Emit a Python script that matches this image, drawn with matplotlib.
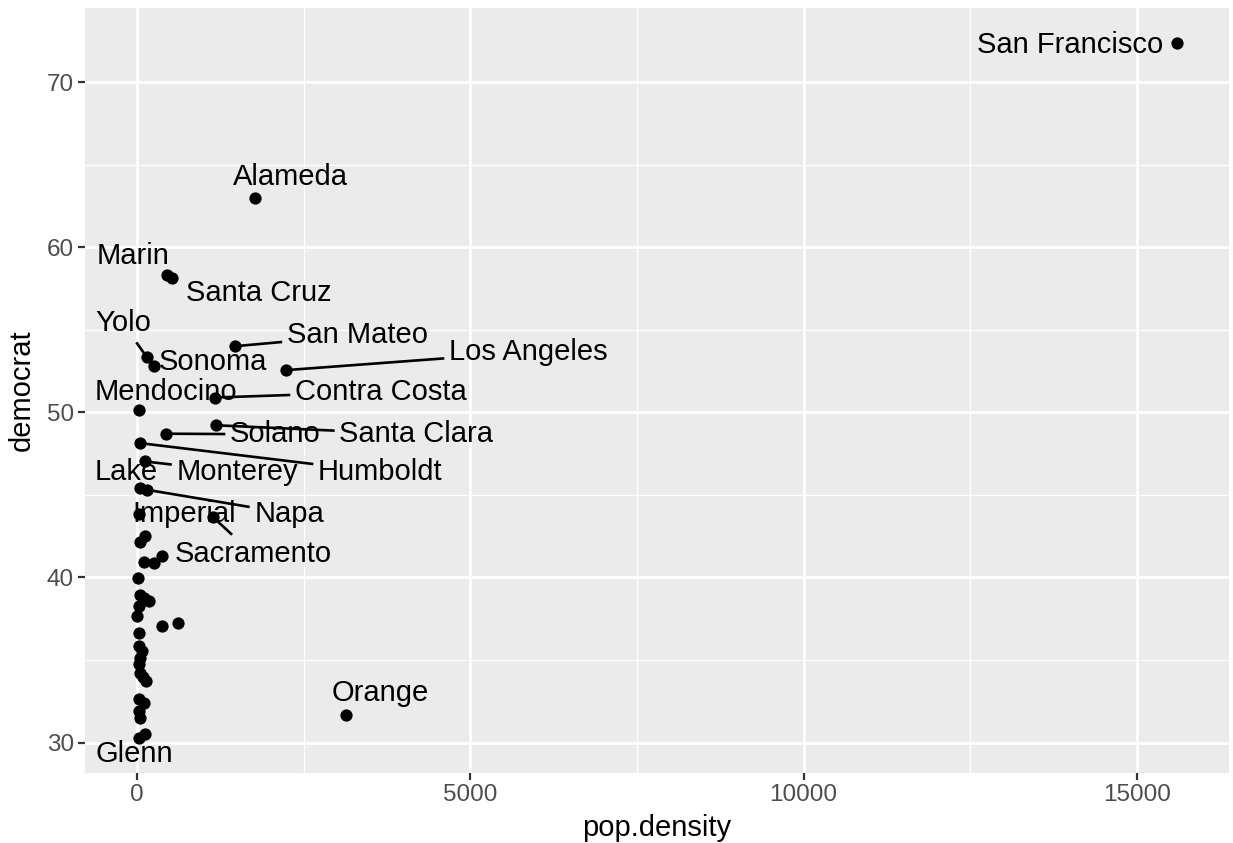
import numpy as np
import matplotlib.pyplot as plt

plt.rcParams['font.family'] = ['Liberation Sans', 'DejaVu Sans']

# labelled counties: population density vs democrat vote share
county = ['San Francisco', 'Alameda', 'Marin', 'Santa Cruz', 'San Mateo',
          'Yolo', 'Sonoma', 'Los Angeles', 'Contra Costa', 'Mendocino',
          'Santa Clara', 'Solano', 'Humboldt', 'Monterey', 'Lake', 'Napa',
          'Imperial', 'Sacramento', 'Orange', 'Glenn']
county_density = [15604, 1774, 455, 530, 1474,
                  150, 260, 2235, 1164, 30,
                  1185, 440, 40, 114, 40, 150,
                  30, 1140, 3139, 24]
county_dem = [72.39, 63.0, 58.32, 58.14, 54.01,
              53.33, 52.82, 52.56, 50.90, 50.17,
              49.22, 48.71, 48.14, 47.03, 45.41, 45.31,
              43.86, 43.65, 31.67, 30.26]

# the remaining (unlabelled) counties
other_density = [125, 50, 100, 250, 375, 10, 50, 175, 110, 24, 0, 375, 615,
                 24, 35, 50, 72, 24, 50, 140, 95, 24, 100, 24, 50, 125]
other_dem = [42.53, 42.13, 40.96, 40.88, 41.28, 39.97, 38.94, 38.59, 38.77,
             38.29, 37.68, 37.07, 37.24, 36.63, 35.86, 35.15, 35.55, 34.75,
             34.24, 33.74, 33.98, 32.62, 32.42, 31.92, 31.51, 30.5]

# where the repelled labels ended up (data units)
label_x = [13999, 2300, -54, 1830, 3305,
           -213, 1137, 5870, 3657, 440,
           4190, 2075, 3650, 1504, -168, 2284,
           710, 1737, 3650, -48]
label_y = [72.27, 64.26, 59.47, 57.21, 54.68,
           55.39, 53.06, 53.65, 51.24, 51.24,
           48.67, 48.67, 46.38, 46.38, 46.38, 43.87,
           43.87, 41.43, 33.0, 29.28]

xs = np.array(county_density + other_density, dtype=float)
ys = np.array(county_dem + other_dem, dtype=float)

fig = plt.figure(figsize=(12.33, 8.43), dpi=100)
ax = fig.add_axes([0.069, 0.083, 0.9278, 0.9075])
ax.set_facecolor('#EBEBEB')
for s in ax.spines.values():
    s.set_visible(False)

xr = xs.max() - xs.min()
yr = ys.max() - ys.min()
ax.set_xlim(xs.min() - 0.05 * xr, xs.max() + 0.05 * xr)
ax.set_ylim(ys.min() - 0.05 * yr, ys.max() + 0.05 * yr)

ax.set_xticks([0, 5000, 10000, 15000])
ax.set_yticks([30, 40, 50, 60, 70])
ax.set_xticks([2500, 7500, 12500], minor=True)
ax.set_yticks([35, 45, 55, 65], minor=True)
ax.grid(which='major', color='white', lw=2.0)
ax.grid(which='minor', color='white', lw=1.0)
ax.set_axisbelow(True)
ax.tick_params(which='major', length=5, width=1.6, color='#333333',
               labelsize=17.5, labelcolor='#4D4D4D', pad=3)
ax.tick_params(which='minor', length=0)

ax.set_xlabel('pop.density', fontsize=21, labelpad=6)
ax.set_ylabel('democrat', fontsize=21, labelpad=8)

ax.scatter(xs, ys, s=78, color='black', linewidths=0, zorder=3)

texts = []
for name, lx, ly in zip(county, label_x, label_y):
    t = ax.text(lx, ly, name, fontsize=21, ha='center', va='center',
                zorder=4)
    texts.append(t)

# segments from each point towards its label centre, stopped at the padded box
fig.canvas.draw()
to_data = ax.transData.inverted()
pad = 6
for t, px, py in zip(texts, county_density, county_dem):
    bb = t.get_window_extent()
    x0, x1 = bb.x0 - pad, bb.x1 + pad
    y0, y1 = bb.y0 - pad, bb.y1 + pad
    p = ax.transData.transform((px, py))
    c = np.array([(bb.x0 + bb.x1) / 2, (bb.y0 + bb.y1) / 2])
    if x0 <= p[0] <= x1 and y0 <= p[1] <= y1:
        continue
    d = c - p
    tmin = 1.0
    for lo, hi, k in ((x0, x1, 0), (y0, y1, 1)):
        if d[k] > 0:
            tk = (lo - p[k]) / d[k]
        elif d[k] < 0:
            tk = (hi - p[k]) / d[k]
        else:
            continue
        q = p + tk * d
        other = 1 - k
        lo2, hi2 = (y0, y1) if other == 1 else (x0, x1)
        if 0 <= tk <= 1 and lo2 - 0.5 <= q[other] <= hi2 + 0.5:
            tmin = min(tmin, tk)
    e = p + tmin * d
    if np.hypot(*(e - p)) < 12:
        continue
    a = to_data.transform(p)
    b = to_data.transform(e)
    ax.plot([a[0], b[0]], [a[1], b[1]], color='black', lw=1.9, zorder=2.5)

fig.savefig('out.png', dpi=100)
